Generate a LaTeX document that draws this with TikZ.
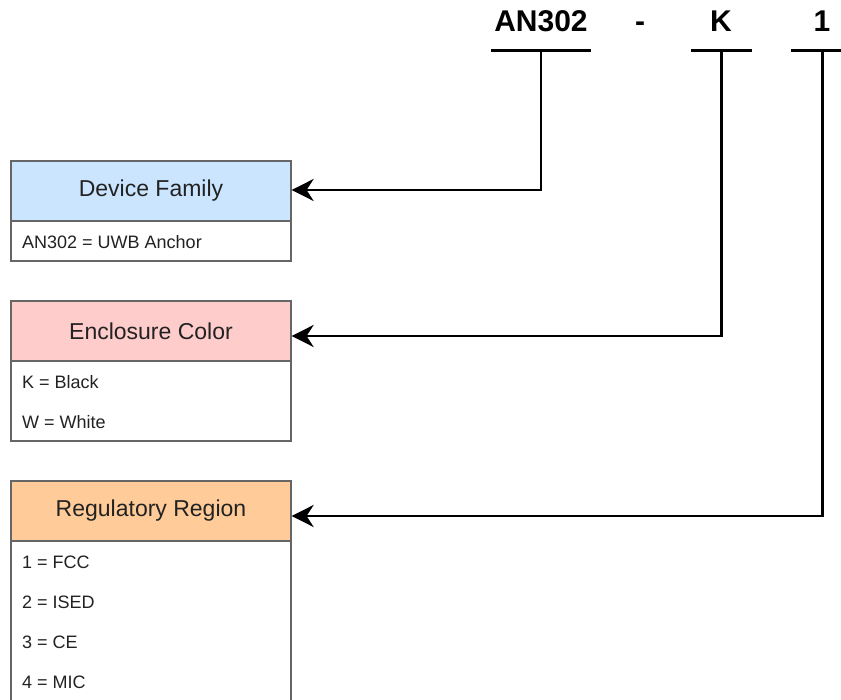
\documentclass[tikz,border=0pt]{standalone}
\usepackage{fontspec}
\setmainfont{Liberation Sans}
\usetikzlibrary{arrows.meta}
\definecolor{famblue}{HTML}{CCE5FF}
\definecolor{encpink}{HTML}{FFCCCC}
\definecolor{regorange}{HTML}{FFCC99}
\definecolor{boxline}{HTML}{666666}
\definecolor{txt}{HTML}{222222}
\tikzset{
  hdr/.style={draw=boxline, line width=1.2pt, minimum width=280pt, minimum height=60pt, inner sep=0pt, text=txt, font=\fontsize{23}{27}\selectfont},
  bodybox/.style={draw=boxline, line width=1.2pt, fill=white, minimum width=280pt, inner sep=0pt},
  item/.style={anchor=west, inner sep=0pt, text=txt, font=\fontsize{18}{21}\selectfont},
  code/.style={anchor=base, inner sep=0pt, font=\fontsize{30}{34}\selectfont\bfseries},
  uline/.style={line width=3pt},
  conn/.style={line width=2.6pt, -{Stealth[length=22pt, width=22pt, inset=7pt]}}
}
\begin{document}
\begin{tikzpicture}[x=1pt, y=-1pt]
\useasboundingbox (0,0) rectangle (841,700);
% code parts
\node[code] (an) at (541,32) {AN302};
\node[code] (dash) at (640,32) {-};
\node[code] (k) at (721,32) {K};
\node[code] (one) at (822,32) {1};
\coordinate (anl) at (491,51); \coordinate (anr) at (591,51); \coordinate (anb) at (541,51);
\coordinate (kl) at (691,51); \coordinate (kr) at (752,51); \coordinate (kb) at (721.5,51);
\coordinate (onel) at (791,51); \coordinate (oner) at (852,51); \coordinate (oneb) at (822.5,51);
\draw[uline] (anl) -- (anr);
\draw[uline] (kl) -- (kr);
\draw[uline] (onel) -- (oner);
% boxes
\node[bodybox, minimum height=40pt] (famb) at (151,241) {};
\node[hdr, fill=famblue] (fam) at (151,191) {Device Family};
\node[item] (fam1) at (22,242) {AN302 = UWB Anchor};

\node[bodybox, minimum height=80pt] (encb) at (151,401) {};
\node[hdr, fill=encpink] (enc) at (151,331) {Enclosure Color};
\node[item] (enc1) at (22,382) {K = Black};
\node[item] (enc2) at (22,422) {W = White};

\node[bodybox, minimum height=170pt] (regb) at (151,626) {};
\node[hdr, fill=regorange] (reg) at (151,511) {Regulatory Region};
\node[item] (reg1) at (22,562) {1 = FCC};
\node[item] (reg2) at (22,602) {2 = ISED};
\node[item] (reg3) at (22,642) {3 = CE};
\node[item] (reg4) at (22,682) {4 = MIC};
% connectors
\draw[conn] (anb) |- ([yshift=1pt]fam.east);
\draw[conn] (kb) |- ([yshift=-5pt]enc.east);
\draw[conn] (oneb) |- ([yshift=-5pt]reg.east);
\end{tikzpicture}
\end{document}
